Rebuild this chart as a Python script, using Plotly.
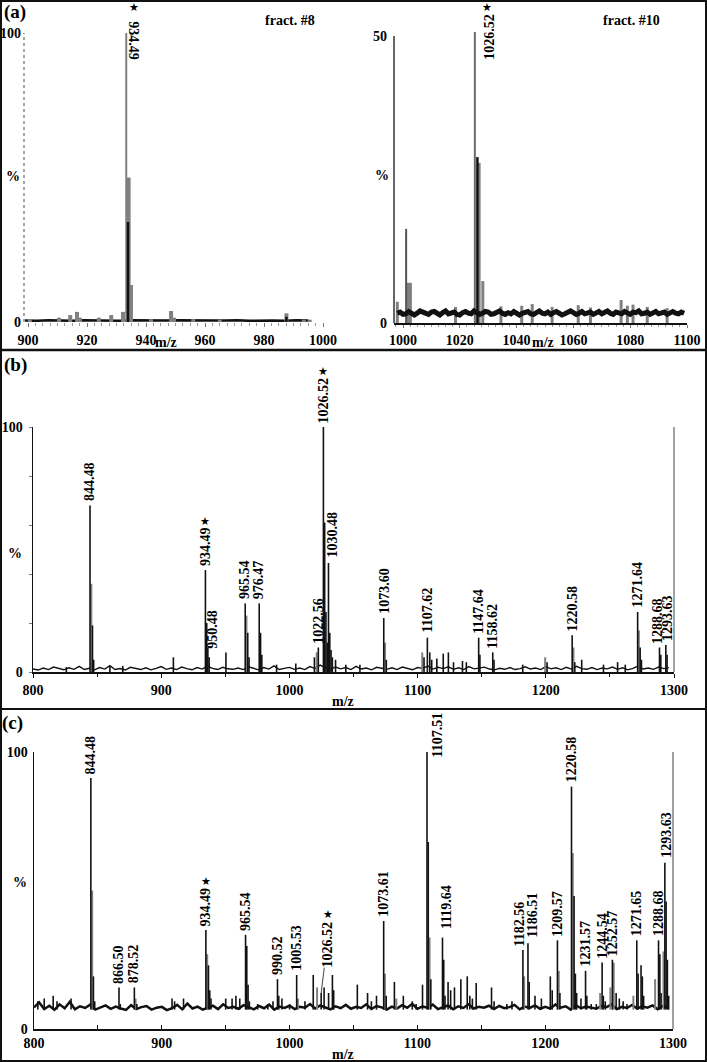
import plotly.graph_objects as go

W, H = 707, 1062

# ======================= DATA =======================
# ---- Panel (a), left: fract. #8  (m/z, relative intensity %) ----
a8_main_mz = [933.3]
a8_main_int = [100.0]
a8_gray_mz = [900.6, 910.5, 914.3, 916.6, 917.6, 924.0, 928.2, 932.2, 934.1, 934.9,
              941.7, 948.5, 949.5, 956.0, 965.0, 987.6, 993.5, 995.5]
a8_gray_int = [1.0, 1.5, 2.4, 3.5, 1.5, 1.5, 2.4, 3.5, 50.0, 12.8,
               1.0, 3.8, 1.5, 1.0, 0.8, 3.0, 0.8, 0.8]
a8_black_mz = [933.9, 987.6]
a8_black_int = [34.6, 1.8]
a8_base_mz = list(range(899, 997, 4))
a8_base_int = [0.5, 0.4, 0.6, 0.5, 0.4, 0.6, 0.5, 0.5, 0.4, 0.6, 0.5, 0.4, 0.5,
               0.6, 0.5, 0.4, 0.5, 0.5, 0.6, 0.4, 0.5, 0.5, 0.4, 0.6, 0.5]
a8_label = "934.49"

# ---- Panel (a), right: fract. #10 ----
a10_main_mz = [1025.3]
a10_main_int = [50.7]
a10_dark_mz = [1001.1]
a10_dark_int = [16.4]
a10_gray_mz = [998.0, 1001.8, 1002.6, 1018.5, 1026.8, 1028.1, 1034.5, 1041.8, 1045.5,
               1052.5, 1061.7, 1066.0, 1076.8, 1079.0, 1081.0, 1086.0, 1093.0]
a10_gray_int = [3.7, 7.0, 7.0, 2.8, 27.9, 7.3, 2.9, 3.0, 3.3,
                2.8, 3.1, 2.7, 4.0, 3.0, 3.2, 2.8, 2.6]
a10_black_mz = [1026.2]
a10_black_int = [28.9]
a10_noise_mz = list(range(998, 1100, 1))
a10_noise_int = [1.7, 1.9, 1.5, 1.6, 2.0, 1.8, 1.4, 1.7, 2.1, 1.9,
                 1.6, 1.5, 1.9, 2.0, 1.7, 1.4, 1.8, 2.1, 1.6, 1.7,
                 1.9, 1.5, 1.4, 1.8, 2.0, 1.7, 1.6, 2.1, 1.8, 1.5,
                 1.7, 2.0, 1.9, 1.5, 1.6, 1.9, 2.1, 1.7, 1.5, 1.8,
                 1.6, 2.0, 1.8, 1.4, 1.7, 1.9, 2.0, 1.6, 1.5, 1.8,
                 2.1, 1.7, 1.6, 1.9, 1.5, 1.8, 2.0, 1.7, 1.4, 1.6,
                 1.9, 2.1, 1.8, 1.5, 1.7, 2.0, 1.6, 1.8, 1.9, 1.5,
                 1.7, 2.0, 1.6, 1.8, 2.1, 1.7, 1.5, 1.9, 1.8, 1.6,
                 2.0, 1.7, 1.5, 1.9, 1.8, 2.1, 1.6, 1.7, 1.9, 1.5,
                 1.8, 2.0, 1.6, 1.7, 1.9, 1.5, 1.8, 2.0, 1.7, 1.6,
                 1.9, 1.7]
a10_label = "1026.52"

# ---- Panel (b) ----
b_black_mz = [826, 844.48, 846.4, 847.3, 860, 870, 909.5, 934.49, 935.5, 936.4, 937.4,
              950.48, 965.54, 967.5, 968.5, 976.47, 977.5, 978.5, 990, 1005,
              1019.5, 1022.56, 1026.52, 1027.5, 1028.5, 1029.5, 1030.48, 1031.5, 1032.5,
              1033.5, 1036, 1044, 1055, 1073.60, 1075.6, 1105, 1107.62, 1109.5, 1111,
              1115, 1120, 1124, 1128, 1135, 1138, 1147.64, 1148.6, 1158.62, 1159.6,
              1182, 1201, 1220.58, 1222.6, 1228, 1245, 1256, 1262, 1271.64, 1273.6,
              1274.6, 1288.68, 1289.7, 1293.63, 1294.6]
b_black_int = [2.0, 68, 19, 5, 2.5, 2.5, 6, 41.6, 20, 10, 6,
               8, 28, 16, 6, 28, 16, 7, 3, 3.5,
               6, 10, 100, 61, 24.5, 12, 44.5, 16, 9,
               6, 5, 3, 3, 22, 5, 6, 14, 8, 5,
               5.5, 7.5, 8, 4, 4.5, 4, 14, 7, 8, 5,
               3, 4, 15, 4, 5, 3, 4, 3, 24.5, 10,
               5, 10, 7, 11, 7]
b_gray_mz = [845.5, 966.5, 1021.3, 1074.6, 1103.6, 1199.5, 1221.6, 1272.6]
b_gray_int = [36, 23, 8, 12, 8, 6, 10, 17]
b_noise_mz = list(range(800, 1300, 4))
b_noise_int = [1.2, 0.8, 1.6, 1.0, 2.0, 1.3, 0.9, 1.7, 1.1, 2.3,
               1.0, 1.5, 0.9, 1.8, 1.2, 2.6, 1.0, 1.4, 0.8, 1.9,
               1.3, 1.0, 1.7, 0.9, 1.5, 2.2, 1.1, 1.6, 1.0, 2.0,
               1.4, 0.9, 1.8, 1.2, 2.4, 1.5, 1.0, 1.9, 1.3, 1.1,
               1.6, 1.0, 2.1, 1.4, 0.9, 1.8, 1.2, 2.5, 1.0, 1.5,
               1.9, 1.1, 1.6, 1.0, 2.2, 1.4, 2.8, 1.7, 1.2, 2.0,
               1.3, 1.8, 1.0, 2.3, 1.2, 1.6, 0.9, 1.9, 1.4, 1.1,
               1.7, 1.0, 2.0, 1.3, 0.9, 1.8, 1.5, 2.4, 1.2, 1.9,
               1.4, 2.1, 1.1, 1.7, 1.0, 2.2, 1.3, 1.6, 2.0, 1.2,
               0.9, 1.5, 1.1, 1.8, 1.0, 1.4, 2.1, 1.2, 1.6, 1.0,
               2.2, 1.3, 1.7, 1.0, 1.9, 1.2, 2.3, 1.4, 1.1, 1.8,
               1.0, 1.6, 1.3, 2.0, 1.1, 1.7, 0.9, 1.5, 2.4, 1.2,
               1.6, 1.1, 2.0, 1.4, 1.8]
b_labels = ["844.48", "934.49", "950.48", "965.54", "976.47", "1022.56", "1026.52",
            "1030.48", "1073.60", "1107.62", "1147.64", "1158.62", "1220.58",
            "1271.64", "1288.68", "1293.63"]
b_starred = ["934.49", "1026.52"]

# ---- Panel (c) ----
c_base = 7.0
c_black_mz = [803, 808, 815, 818, 829, 844.48, 846.5, 847.5, 866.50, 867.5,
              878.52, 880.5, 908, 910, 917, 934.49, 936.5, 937.5, 938.5, 950,
              955, 958, 961, 965.54, 966.5, 967.5, 968.5, 975, 983, 987,
              990.52, 991.5, 994, 1000, 1005.53, 1012, 1018.5, 1024.7, 1027, 1030.5,
              1033.5, 1034.5, 1053, 1061, 1064, 1068, 1073.61, 1075.6, 1082, 1089,
              1096, 1099, 1104, 1107.51, 1108.5, 1110.5, 1119.64, 1120.6, 1121.6, 1124,
              1126, 1129, 1134, 1139, 1141, 1143, 1146, 1158, 1160, 1170,
              1174, 1182.56, 1186.51, 1187.5, 1192, 1197, 1204, 1205.5, 1209.57, 1211.5,
              1220.58, 1222.6, 1223.6, 1224.6, 1228, 1231.57, 1232.6, 1236, 1240, 1244.54,
              1245.5, 1247, 1252.57, 1255.5, 1258, 1261, 1264, 1271.65, 1272.7, 1275,
              1276, 1277, 1288.68, 1289.7, 1290.7, 1293.63, 1294.6, 1295.6, 1296.6]
c_black_int = [10, 11, 12, 10, 11, 90.6, 19, 10, 15, 9,
               15, 9, 11, 10, 11, 35.7, 23, 14, 11, 11,
               11, 12, 11, 34, 30, 16, 10, 9, 9, 10,
               18, 12, 11, 9, 19.5, 10, 19.5, 13, 15, 13,
               19.5, 14, 16, 13, 10, 12, 39, 12, 17, 12,
               10, 9, 16, 100, 67.5, 18, 33, 25, 12, 17,
               14, 15, 18, 19, 12, 11, 16.6, 15, 10, 9,
               10, 28.5, 31, 17, 12, 11, 19, 14, 32, 13,
               87.5, 48, 20, 13, 11, 21, 12, 9, 9, 24,
               12, 10, 25, 13, 11, 10, 9, 32, 20, 23,
               19, 12, 32, 27, 13, 60, 46, 25, 12]
c_gray_mz = [845.5, 879.5, 935.5, 1006.5, 1021.5, 1074.6, 1083.5, 1109.5, 1183.5,
             1210.6, 1221.6, 1243, 1251, 1253.6, 1269, 1286, 1292.6]
c_gray_int = [50, 11, 27, 11, 15, 20, 11, 33, 19,
              21, 63.5, 13, 15, 24, 12, 18, 28]
c_noise_mz = list(range(800, 1300, 4))
c_noise_int = [7.8, 9.6, 7.2, 8.4, 6.9, 8.9, 7.5, 9.8, 7.1, 8.2,
               7.6, 8.8, 7.0, 7.9, 8.5, 7.3, 8.1, 7.4, 6.9, 8.6,
               7.2, 7.9, 8.3, 7.0, 7.7, 8.0, 6.8, 7.5, 8.7, 7.1,
               9.2, 7.4, 8.1, 7.0, 7.8, 8.4, 7.2, 8.9, 7.6, 8.0,
               7.3, 8.6, 7.9, 7.1, 8.3, 7.5, 8.8, 7.0, 8.1, 7.6,
               8.4, 7.2, 8.0, 7.7, 9.0, 7.4, 8.5, 7.9, 7.1, 8.2,
               7.5, 8.7, 7.3, 8.0, 7.6, 8.9, 7.2, 8.3, 7.8, 7.0,
               8.1, 7.4, 8.6, 7.7, 9.1, 7.3, 8.2, 7.6, 8.8, 7.2,
               7.9, 8.5, 7.1, 8.2, 7.6, 8.9, 7.4, 8.0, 7.7, 8.4,
               7.2, 8.3, 7.5, 7.9, 8.7, 7.1, 8.1, 7.6, 8.5, 7.3,
               8.0, 7.4, 8.8, 7.7, 8.2, 7.0, 8.6, 7.5, 8.1, 7.8,
               7.3, 8.4, 7.9, 8.9, 7.2, 8.0, 7.6, 8.7, 7.4, 8.2,
               7.7, 8.5, 7.1, 8.3, 7.8]
c_labels = ["844.48", "866.50", "878.52", "934.49", "965.54", "990.52", "1005.53",
            "1073.61", "1107.51", "1119.64", "1182.56", "1186.51", "1209.57",
            "1220.58", "1231.57", "1244.54", "1252.57", "1271.65", "1288.68", "1293.63"]
c_starred = ["934.49"]
c_leader_label = "1026.52"
c_leader_peak = (1024.7, 13)

# ======================= STYLE / LAYOUT =======================
SERIF = "Liberation Serif"
BLACK = "#111111"
GRAY = "#808080"
DARK = "#555555"
LBL = 14


def fx(p):
    return p / W


def fy(p):
    return 1 - p / H


def bold(size):
    return dict(family=SERIF, size=size, color="black", weight="bold")


def b(t):
    return "<b>" + t + "</b>"


fig = go.Figure()


def add_line(x, y, color, width, xa, ya):
    fig.add_trace(go.Scatter(x=x, y=y, mode="lines", line=dict(color=color, width=width),
                             xaxis=xa, yaxis=ya, hoverinfo="skip", showlegend=False))


def add_sticks(mz, inten, base, color, width, xa, ya):
    xs, ys = [], []
    for m, v in zip(mz, inten):
        xs += [m, m, None]
        ys += [base, v, None]
    add_line(xs, ys, color, width, xa, ya)


# (a) left
add_line(a8_base_mz, a8_base_int, BLACK, 2.5, "x", "y")
add_sticks(a8_gray_mz, a8_gray_int, 0, GRAY, 4, "x", "y")
add_sticks(a8_main_mz, a8_main_int, 0, GRAY, 2, "x", "y")
add_sticks(a8_black_mz, a8_black_int, 0, BLACK, 2.5, "x", "y")
# (a) right
add_sticks(a10_gray_mz, a10_gray_int, 0, GRAY, 3, "x2", "y2")
add_sticks(a10_dark_mz, a10_dark_int, 0, DARK, 2, "x2", "y2")
add_sticks(a10_main_mz, a10_main_int, 0, "#6a6a6a", 2, "x2", "y2")
add_sticks(a10_black_mz, a10_black_int, 0, BLACK, 2.5, "x2", "y2")
add_line(a10_noise_mz, a10_noise_int, BLACK, 5, "x2", "y2")
# (b)
add_line(b_noise_mz, b_noise_int, BLACK, 1.4, "x3", "y3")
add_sticks(b_gray_mz, b_gray_int, 0, GRAY, 2, "x3", "y3")
add_sticks(b_black_mz, b_black_int, 0, BLACK, 1.6, "x3", "y3")
# (c)
add_line(c_noise_mz, c_noise_int, BLACK, 2.5, "x4", "y4")
add_sticks(c_gray_mz, c_gray_int, c_base, GRAY, 2, "x4", "y4")
add_sticks(c_black_mz, c_black_int, c_base, BLACK, 1.6, "x4", "y4")

tickfont = bold(14)
common_x = dict(showgrid=False, zeroline=False, tickfont=tickfont, fixedrange=True,
                automargin=False)
common_y = dict(showgrid=False, zeroline=False, tickfont=tickfont, fixedrange=True,
                automargin=False)


def tt(vals):
    return [b(str(v)) for v in vals]


xa1_ticks = [900, 920, 940, 960, 980, 1000]
xa2_ticks = [1000, 1020, 1040, 1060, 1080, 1100]
xa34_ticks = [800, 900, 1000, 1100, 1200, 1300]

layout = dict(
    width=W, height=H, margin=dict(l=0, r=0, t=0, b=0, autoexpand=False),
    paper_bgcolor="white", plot_bgcolor="white", showlegend=False,
    xaxis=dict(common_x, domain=[fx(24), fx(323)], range=[898.64, 1000], anchor="y",
               showline=False, ticks="outside", ticklen=4, tickcolor="#777",
               tickvals=xa1_ticks, ticktext=tt(xa1_ticks), ticklabelstandoff=1,
               minor=dict(ticks="outside", ticklen=3, tickcolor="#999", dtick=2.5,
                          tick0=900, showgrid=False)),
    yaxis=dict(common_y, domain=[fy(322), fy(33)], range=[0, 100], anchor="x",
               showline=False, ticks="", tickvals=[0, 100], ticktext=tt([0, 100]),
               ticklabelstandoff=2),
    xaxis2=dict(common_x, domain=[fx(394), fx(687)], range=[996.83, 1100], anchor="y2",
                showline=True, linecolor=BLACK, linewidth=1.5, ticks="outside", ticklen=3,
                tickcolor="#777", tickvals=xa2_ticks, ticktext=tt(xa2_ticks),
                ticklabelstandoff=1,
                minor=dict(ticks="outside", ticklen=2, tickcolor="#999", dtick=2.5,
                           tick0=1000, showgrid=False)),
    yaxis2=dict(common_y, domain=[fy(323), fy(28)], range=[0, 51.4], anchor="x2",
                showline=False, ticks="", tickvals=[0, 50], ticktext=tt([0, 50]),
                ticklabelstandoff=6),
    xaxis3=dict(common_x, domain=[fx(33), fx(674)], range=[800, 1300], anchor="y3",
                showline=True, linecolor=BLACK, linewidth=1.5, ticks="outside", ticklen=4,
                tickcolor=BLACK, tickvals=xa34_ticks, ticktext=tt(xa34_ticks),
                ticklabelstandoff=1,
                minor=dict(ticks="outside", ticklen=3, tickcolor=BLACK, dtick=50,
                           tick0=800, showgrid=False)),
    yaxis3=dict(common_y, domain=[fy(672), fy(427)], range=[0, 100], anchor="x3",
                showline=True, linecolor=BLACK, linewidth=1.5, ticks="", tickvals=[0, 100],
                ticktext=tt([0, 100]), ticklabelstandoff=6,
                minor=dict(ticks="outside", ticklen=3, tickcolor="#777", dtick=20,
                           tick0=0, showgrid=False)),
    xaxis4=dict(common_x, domain=[fx(34), fx(673)], range=[800, 1300], anchor="y4",
                showline=True, linecolor=BLACK, linewidth=1.5, ticks="inside", ticklen=4,
                tickcolor=BLACK, tickvals=xa34_ticks, ticktext=tt(xa34_ticks),
                ticklabelstandoff=1,
                minor=dict(ticks="inside", ticklen=4, tickcolor=BLACK, dtick=50,
                           tick0=800, showgrid=False)),
    yaxis4=dict(common_y, domain=[fy(1029), fy(752)], range=[0, 100], anchor="x4",
                showline=True, linecolor=BLACK, linewidth=1.5, ticks="", tickvals=[0, 100],
                ticktext=tt([0, 100]), ticklabelstandoff=2),
)
fig.update_layout(**layout)

# ---- frame shapes ----
shapes = [
    dict(type="rect", xref="paper", yref="paper", x0=fx(1), x1=fx(706), y0=fy(1061), y1=fy(1),
         line=dict(color=BLACK, width=2)),
    dict(type="line", xref="paper", yref="paper", x0=0, x1=1, y0=fy(350), y1=fy(350),
         line=dict(color=BLACK, width=2.5)),
    dict(type="line", xref="paper", yref="paper", x0=0, x1=1, y0=fy(709), y1=fy(709),
         line=dict(color=BLACK, width=2)),
    dict(type="line", xref="paper", yref="paper", x0=fx(24), x1=fx(24), y0=fy(322), y1=fy(33),
         line=dict(color="#888", width=1.5, dash="dot")),
    dict(type="line", xref="paper", yref="paper", x0=fx(394), x1=fx(394), y0=fy(323),
         y1=fy(36), line=dict(color="#333", width=1.5)),
    dict(type="line", xref="paper", yref="paper", x0=fx(674), x1=fx(674), y0=fy(672),
         y1=fy(427), line=dict(color="#444", width=1)),
    dict(type="line", xref="paper", yref="paper", x0=fx(673), x1=fx(673), y0=fy(1029),
         y1=fy(752), line=dict(color="#444", width=1)),
]
fig.update_layout(shapes=shapes)

ann = []


def text_len(t, size=LBL):
    return sum(0.25 * size if c == "." else 0.5 * size for c in t)


def paper_text(t, x, y, size=14, **kw):
    ann.append(dict(text=b(t), x=fx(x), y=fy(y), xref="paper", yref="paper", showarrow=False,
                    font=bold(size), xanchor="center", yanchor="middle", **kw))


def star(xa, ya, x, y, xshift, yshift):
    ann.append(dict(text="★", x=x, y=y, xref=xa, yref=ya, showarrow=False,
                    font=dict(family="DejaVu Sans", size=11, color="black"),
                    xanchor="center", yanchor="middle", xshift=xshift, yshift=yshift))


def peak_label(xa, ya, text, mz_list, int_list, starred, offs):
    mz = float(text)
    inten = int_list[mz_list.index(mz)]
    dx, dy = offs.get(text, (0, 3))
    ann.append(dict(text=b(text), x=mz, y=inten, xref=xa, yref=ya, showarrow=False,
                    textangle=-90, font=bold(LBL), xanchor="center", yanchor="bottom",
                    xshift=dx, yshift=dy, borderpad=0))
    if text in starred:
        star(xa, ya, mz, inten, dx, dy + text_len(text) + 7)


# panel titles / axis text
paper_text("(a)", 15, 12, size=19)
paper_text("(b)", 15, 365, size=19)
paper_text("(c)", 12, 723, size=19)
paper_text("fract. #8", 290, 21)
paper_text("fract. #10", 631, 21)
paper_text("%", 13, 177)
paper_text("%", 382, 175)
paper_text("%", 15, 553)
paper_text("%", 20, 882)
paper_text("m/z", 166, 343)
paper_text("m/z", 543, 343)
paper_text("m/z", 343, 701)
paper_text("m/z", 343, 1054)

# (a) peak labels
ann.append(dict(text=b(a8_label), x=a8_main_mz[0], y=a8_main_int[0], xref="x", yref="y",
                showarrow=False, textangle=90, font=bold(LBL), xanchor="center",
                yanchor="top", xshift=7, yshift=13, borderpad=0))
star("x", "y", a8_main_mz[0], a8_main_int[0], 7.5, 25)
ann.append(dict(text=b(a10_label), x=a10_main_mz[0], y=a10_main_int[0], xref="x2",
                yref="y2", showarrow=False, textangle=-90, font=bold(LBL), xanchor="center",
                yanchor="top", xshift=14, yshift=19, borderpad=0))
star("x2", "y2", a10_main_mz[0], a10_main_int[0], 12, 25)

# (b) peak labels
b_offs = {"950.48": (-13, 3), "1030.48": (4, 5), "1107.62": (0, 4),
          "1288.68": (-2, 3), "1293.63": (1, 3)}
for t in b_labels:
    peak_label("x3", "y3", t, b_black_mz, b_black_int, b_starred, b_offs)

# (c) peak labels
c_offs = {"1107.51": (10, -7), "1119.64": (4, 7), "1182.56": (-3, 3),
          "1186.51": (5, 5), "1293.63": (2, 4)}
for t in c_labels:
    peak_label("x4", "y4", t, c_black_mz, c_black_int, c_starred, c_offs)

# (c) label with leader line (text box is centred on the arrow tail)
lead_len = text_len(c_leader_label)
ann.append(dict(text=b(c_leader_label), x=c_leader_peak[0], y=c_leader_peak[1], xref="x4",
                yref="y4", showarrow=True, arrowhead=0, arrowwidth=0.8, arrowcolor=BLACK,
                ax=6, ay=-(26 + lead_len / 2), textangle=-90, font=bold(LBL),
                borderpad=0, standoff=0))
star("x4", "y4", c_leader_peak[0], c_leader_peak[1], 7, 26 + lead_len + 7)

fig.update_layout(annotations=ann)
fig.write_html("out.html",
               config={"displayModeBar": False, "staticPlot": True},
               post_script="document.body.style.margin='0';"
                           "document.body.style.padding='0';"
                           "document.body.style.overflow='hidden';")
